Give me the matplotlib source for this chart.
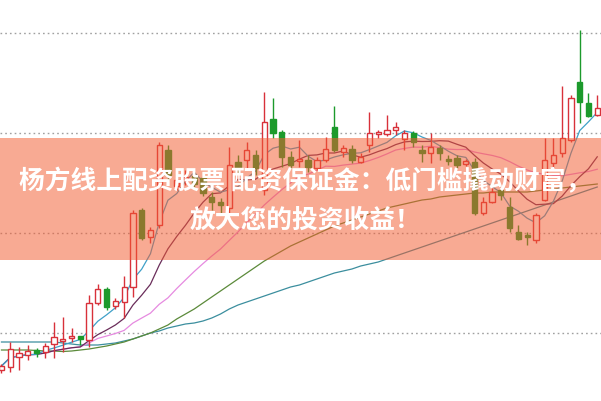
import matplotlib
matplotlib.use("Agg")
import matplotlib.pyplot as plt
import pandas as pd
from matplotlib.patches import Rectangle

# %% data (price units, one entry per candle)
opens = [7.63, 7.66, 7.76, 7.78, 7.83, 7.81, 7.89, 7.92, 7.95, 7.97,
         7.93, 8.30, 8.44, 8.27, 8.31, 8.46, 9.23, 8.96, 9.08, 9.83,
         9.47, 9.54, 9.57, 9.55, 9.36, 9.31, 9.25, 9.71, 9.73, 9.78,
         9.43, 10.14, 10.01, 9.76, 9.72, 9.73, 9.65, 9.73, 10.06, 9.81,
         9.84, 9.71, 9.88, 9.99, 9.99, 10.03, 9.94, 10.00, 9.83, 9.80,
         9.85, 9.74, 9.75, 9.69, 9.71, 9.20, 9.31, 9.43, 9.26, 9.01,
         8.98, 8.93, 9.33, 9.70, 9.80, 9.93, 10.51, 10.30, 10.18]
highs = [7.69, 7.91, 7.86, 7.88, 7.85, 7.90, 8.11, 8.16, 8.05, 7.97,
         8.38, 8.49, 8.46, 8.35, 8.57, 9.23, 9.25, 9.06, 9.91, 9.88,
         9.58, 9.63, 9.61, 9.58, 9.41, 9.35, 9.86, 9.78, 9.91, 9.83,
         10.41, 10.35, 10.03, 9.82, 9.93, 9.78, 9.76, 9.96, 10.27, 9.88,
         9.88, 9.80, 10.21, 10.03, 10.18, 10.11, 10.03, 10.02, 9.88, 10.00,
         9.88, 9.78, 9.78, 9.74, 9.75, 9.36, 9.45, 9.46, 9.36, 9.08,
         9.01, 9.20, 9.95, 9.95, 10.47, 10.38, 11.03, 10.40, 10.38]
lows = [7.60, 7.61, 7.63, 7.73, 7.76, 7.75, 7.75, 7.81, 7.91, 7.88,
        7.86, 8.28, 8.23, 8.24, 8.15, 8.36, 8.93, 8.90, 9.05, 9.53,
        9.43, 9.48, 9.45, 9.37, 9.23, 9.20, 9.20, 9.60, 9.63, 9.58,
        9.38, 9.95, 9.66, 9.65, 9.66, 9.61, 9.63, 9.71, 9.81, 9.76,
        9.70, 9.70, 9.81, 9.95, 9.97, 9.98, 9.83, 9.86, 9.71, 9.70,
        9.73, 9.68, 9.65, 9.67, 9.18, 9.18, 9.30, 9.33, 9.01, 8.93,
        8.88, 8.90, 9.32, 9.63, 9.76, 9.91, 10.10, 10.16, 10.17]
closes = [7.67, 7.84, 7.80, 7.82, 7.80, 7.87, 7.96, 7.94, 7.97, 7.94,
          8.30, 8.44, 8.26, 8.32, 8.46, 9.20, 8.95, 9.03, 9.88, 9.58,
          9.53, 9.56, 9.49, 9.40, 9.31, 9.28, 9.68, 9.65, 9.83, 9.65,
          10.11, 10.00, 9.76, 9.68, 9.74, 9.66, 9.73, 9.84, 9.83, 9.85,
          9.73, 9.76, 10.00, 10.01, 10.03, 10.06, 10.00, 9.91, 9.80, 9.86,
          9.80, 9.72, 9.68, 9.72, 9.20, 9.31, 9.41, 9.38, 9.05, 8.94,
          8.96, 9.18, 9.73, 9.78, 9.95, 10.35, 10.31, 10.17, 10.25]
ma60 = [7.83, 7.83, 7.83, 7.83, 7.825, 7.82, 7.82, 7.815, 7.82, 7.83,
        7.84, 7.855, 7.87, 7.89, 7.91, 7.94, 7.97, 8.00, 8.04, 8.08,
        8.14, 8.19, 8.24, 8.30, 8.36, 8.42, 8.48, 8.54, 8.60, 8.66,
        8.72, 8.77, 8.82, 8.87, 8.91, 8.95, 8.99, 9.03, 9.07, 9.10,
        9.13, 9.16, 9.19, 9.22, 9.25, 9.27, 9.29, 9.31, 9.33, 9.34,
        9.36, 9.37, 9.38, 9.39, 9.40, 9.40, 9.41, 9.41, 9.41, 9.41,
        9.41, 9.42, 9.43, 9.44, 9.45, 9.46, 9.47, 9.48, 9.49]
ma120 = [7.91, 7.91, 7.91, 7.91, 7.91, 7.91, 7.91, 7.90, 7.89, 7.88,
         7.88, 7.88, 7.89, 7.90, 7.92, 7.94, 7.97, 8.00, 8.02, 8.05,
         8.07, 8.09, 8.10, 8.12, 8.15, 8.19, 8.24, 8.28, 8.31, 8.34,
         8.37, 8.40, 8.43, 8.46, 8.48, 8.51, 8.54, 8.57, 8.60, 8.62,
         8.64, 8.67, 8.69, 8.71, 8.74, 8.77, 8.80, 8.83, 8.86, 8.89,
         8.92, 8.95, 8.98, 9.01, 9.04, 9.07, 9.10, 9.13, 9.16, 9.19,
         9.22, 9.25, 9.28, 9.31, 9.34, 9.37, 9.40, 9.43, 9.46]
grid_levels = [8, 9, 10, 11]
banner_lines = ["杨方线上配资股票 配资保证金：低门槛撬动财富，", "放大您的投资收益！"]

df = pd.DataFrame({"open": opens, "high": highs, "low": lows, "close": closes})
df["ma5"] = df.close.rolling(5, min_periods=1).mean()
df["ma10"] = df.close.rolling(10, min_periods=1).mean()
df["ma20"] = df.close.rolling(20, min_periods=1).mean()
df["ma60"] = ma60
df["ma120"] = ma120

UP, DOWN = "#d8313a", "#1c9a2c"

# %%
fig = plt.figure(figsize=(6.01, 4.01), dpi=100)
ax = fig.add_axes([0, 0, 1, 1])
ax.set_xlim(-0.17, 68.43)
ax.set_ylim(7.32, 11.33)
ax.axis("off")

for lvl in grid_levels:
    ax.axhline(lvl, color="#a0a0a0", lw=1, ls=(0, (1.2, 2.2)), zorder=0)

for col, c in [("ma120", "#3b8e9e"), ("ma60", "#5b8a3a"), ("ma20", "#e68ae0"),
               ("ma10", "#6a2d5a"), ("ma5", "#3fa0c8")]:
    ax.plot(df.index, df[col], color=c, lw=0.9, zorder=1)

w = 0.6
for i, r in df.iterrows():
    up = r.close >= r.open
    c = UP if up else DOWN
    ax.vlines(i, r.low, r.high, color=c, lw=1, zorder=2)
    bottom = min(r.open, r.close)
    h = max(abs(r.close - r.open), 0.004)
    ax.add_patch(Rectangle((i - w / 2, bottom), w, h, facecolor="white" if up else c,
                           edgecolor=c, lw=1, zorder=3))

# translucent banner over the middle of the chart
ax.add_patch(Rectangle((0, 1 - 260 / 401), 1, 122 / 401, transform=ax.transAxes,
                       facecolor="#f35c31", alpha=0.52, lw=0, zorder=5))
for k, line in enumerate(banner_lines):
    fig.text(0.5 + 5 / 601, 1 - (182 + 38 * k) / 401, line, ha="center", va="center",
             color="white", fontsize=18.5, fontweight="bold",
             family=["Noto Sans CJK SC", "DejaVu Sans"], zorder=6)

fig.savefig("out.png", dpi=100)
